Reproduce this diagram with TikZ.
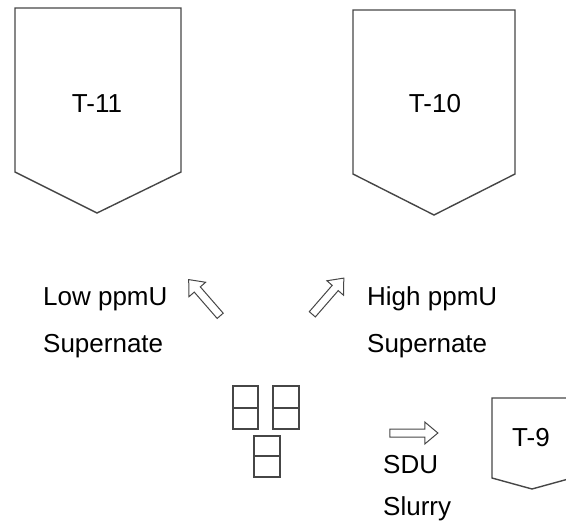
\documentclass[tikz,border=0pt]{standalone}
\usepackage{fontspec}
\setmainfont{Liberation Sans}
\usetikzlibrary{shapes.arrows}
\definecolor{OutlineClr}{RGB}{70,70,70}

\begin{document}
\begin{tikzpicture}[x=1pt,y=-1pt,
  tank/.style={line width=1.4pt,color=OutlineClr,line join=miter},
  flowarrow/.style={single arrow,draw=OutlineClr,line width=1pt,inner sep=3.5pt,
    minimum height=48pt,single arrow head extend=7pt,single arrow tip angle=80},
  cell/.style={draw=OutlineClr,line width=1.2pt},
  lbl/.style={font=\fontsize{26}{30}\selectfont,inner sep=0pt,anchor=base west},
  tanklbl/.style={font=\fontsize{26}{30}\selectfont,inner sep=0pt}]
\useasboundingbox (0,0) rectangle (566,525);
\clip (0,0) rectangle (566,525);

% Tanks
\draw[tank] (15,8) -- (15,172) -- (97,213) -- (181,172) -- (181,8) -- cycle;
\draw[tank] (353,10) -- (353,174) -- (434,215) -- (515,174) -- (515,10) -- cycle;
\draw[tank] (492,398) -- (492,478) -- (532,489) -- (572,478) -- (572,398) -- cycle;

\node[tanklbl] (T11) at (97,103.5) {T-11};
\node[tanklbl] (T10) at (435,104) {T-10};
\node[tanklbl] (T9) at (531,438) {T-9};

% Flow arrows
\node[flowarrow,rotate=131] (LowArr) at (206,299.5) {};
\node[flowarrow,rotate=49] (HighArr) at (326.5,298) {};
\node[flowarrow] (SduArr) at (411.5,433) {};

% Settling units
\draw[cell] (233,386) rectangle (258,429);
\draw[cell] (233,408) -- (258,408);
\draw[cell] (273,386) rectangle (299,429);
\draw[cell] (273,408) -- (299,408);
\draw[cell] (254,436) rectangle (280,477);
\draw[cell] (254,456) -- (280,456);

% Labels
\node[lbl] (LowA) at (43,305) {Low ppmU};
\node[lbl] (LowB) at (43,352) {Supernate};
\node[lbl] (HighA) at (367,305) {High ppmU};
\node[lbl] (HighB) at (367,352) {Supernate};
\node[lbl] (SduA) at (383,473) {SDU};
\node[lbl] (SduB) at (383,515) {Slurry};

\end{tikzpicture}
\end{document}
